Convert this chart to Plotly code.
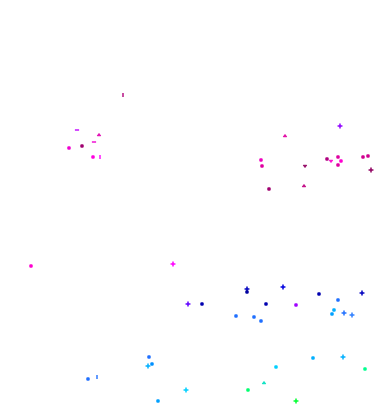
import plotly.graph_objects as go

x_vals = [123, 77, 99, 94, 69, 82, 93, 100,
          340, 285, 261, 262, 305, 327, 331, 338, 341, 338, 363, 368, 371, 269, 304,
          31, 173, 188,
          202, 247, 247, 283, 266, 296, 319, 362,
          236, 254, 261, 338, 334, 332, 344, 352,
          149, 152, 148, 88, 97, 186, 158,
          313, 343, 276, 365, 264, 248, 296]
y_vals = [95, 130, 135, 142, 148, 146, 157, 157,
          126, 136, 160, 166, 166, 159, 161, 157, 161, 165, 157, 156, 170, 189, 186,
          266, 264, 304,
          304, 289, 292, 287, 304, 305, 294, 293,
          316, 317, 321, 300, 310, 314, 313, 315,
          357, 364, 366, 379, 377, 390, 401,
          358, 357, 367, 369, 383, 390, 401]
colors = ["#b0007a", "#c000ff", "#e000b0", "#f000d0", "#f000d0", "#a00070", "#ff00e0", "#ff00ff",
          "#9000ff", "#e000a0", "#f000c0", "#e000a0", "#900060", "#b00080", "#ff00d0", "#e000a0", "#ff00d0", "#e000a0", "#d00090", "#d00090", "#900060", "#a00070", "#c00080",
          "#ff00d0", "#ff00ff", "#6000ff",
          "#0000b0", "#0000c0", "#0000a0", "#0000e0", "#0000b0", "#a000ff", "#0000b0", "#0000c0",
          "#2070ff", "#2070ff", "#2070ff", "#2070ff", "#00b0ff", "#00a0ff", "#2070ff", "#3080ff",
          "#2070ff", "#0090ff", "#00b0ff", "#2070ff", "#2070ff", "#00d0ff", "#00a0ff",
          "#00b0ff", "#00b0ff", "#00d0ff", "#00ff90", "#00e0c0", "#00ff70", "#00ff30"]
symbols = ["line-ns", "line-ew", "triangle-up", "line-ew", "square", "square", "square", "line-ns",
           "cross-thin", "triangle-up", "square", "square", "triangle-down", "square", "triangle-down", "square", "square", "square", "square", "square", "cross-thin", "square", "triangle-up",
           "square", "cross-thin", "cross-thin",
           "square", "cross-thin", "square", "cross-thin", "square", "square", "square", "cross-thin",
           "square", "square", "square", "square", "square", "square", "cross-thin", "cross-thin",
           "square", "square", "cross-thin", "square", "line-ns", "cross-thin", "square",
           "square", "cross-thin", "square", "square", "triangle-up", "square", "cross-thin"]

size_map = {"cross-thin": 3.5, "square": 2.4, "line-ns": 3, "line-ew": 3,
            "triangle-up": 3, "triangle-down": 3}
line_map = {"cross-thin": 1.5, "square": 0.9, "line-ns": 1.4, "line-ew": 1.4,
            "triangle-up": 0.9, "triangle-down": 0.9}
sizes = [size_map[s] for s in symbols]
widths = [line_map[s] for s in symbols]

fig = go.Figure(go.Scatter(
    x=x_vals, y=y_vals, mode="markers",
    marker=dict(color=colors, symbol=symbols, size=sizes, opacity=1,
                line=dict(width=widths, color=colors)),
    hoverinfo="skip"))

fig.update_layout(
    width=378, height=406,
    margin=dict(l=0, r=0, t=0, b=0),
    paper_bgcolor="white", plot_bgcolor="white",
    showlegend=False,
    xaxis=dict(range=[0, 378], visible=False, fixedrange=True),
    yaxis=dict(range=[406, 0], visible=False, fixedrange=True),
)
fig.write_html("out.html", config={"displayModeBar": False})
